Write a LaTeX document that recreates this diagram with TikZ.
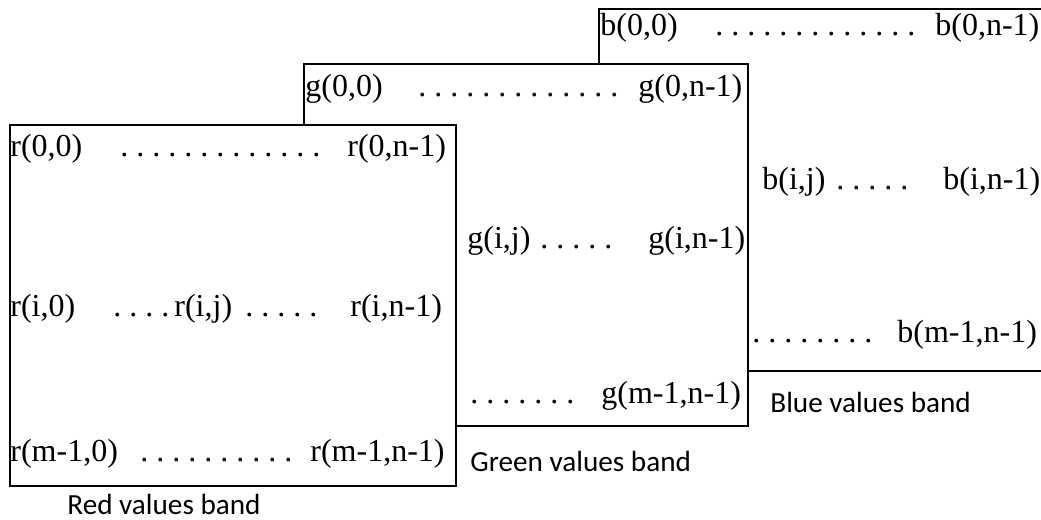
\documentclass[tikz,border=0pt]{standalone}
\usepackage{fontspec}
\setmainfont{Liberation Serif}
\newfontfamily\labelfont{Carlito}
\usetikzlibrary{positioning}
\frenchspacing

\begin{document}
\begin{tikzpicture}[x=0.5pt, y=-0.5pt]
  \tikzstyle{band}=[draw=black, line width=1pt, fill=white]
  \tikzstyle{cell}=[anchor=base west, inner sep=0pt, font=\fontsize{16}{19}\selectfont]
  \tikzstyle{caption}=[anchor=base west, inner sep=0pt, font=\labelfont\fontsize{14.6}{17}\selectfont]
  \useasboundingbox (0,0) rectangle (1041,520);

  % blue band (back)
  \draw[band] (599,9) rectangle (1048,371);
  \node[cell] (b00) at (600,35) {b(0,0)};
  \node[cell] (bdots0) at (715,35) {. . . . . . . . . . . . .};
  \node[cell] (b0n) at (935,35) {b(0,n-1)};
  \node[cell] (bij) at (762,189) {b(i,j)};
  \node[cell] (bdotsi) at (836,189) {. . . . .};
  \node[cell] (bin) at (943,189) {b(i,n-1)};
  \node[cell] (bdotsm) at (752,342) {. . . . . . . .};
  \node[cell] (bmn) at (897,342) {b(m-1,n-1)};
  \node[caption] (bluelabel) at (770,412) {Blue values band};

  % green band (middle)
  \draw[band] (304,64) rectangle (748,426);
  \node[cell] (g00) at (305,96) {g(0,0)};
  \node[cell] (gdots0) at (418,96) {. . . . . . . . . . . . .};
  \node[cell] (g0n) at (638,96) {g(0,n-1)};
  \node[cell] (gij) at (467,248) {g(i,j)};
  \node[cell] (gdotsi) at (540,248) {. . . . .};
  \node[cell] (gin) at (648,248) {g(i,n-1)};
  \node[cell] (gdotsm) at (470,403) {. . . . . . .};
  \node[cell] (gmn) at (601,403) {g(m-1,n-1)};
  \node[caption] (greenlabel) at (470,471) {Green values band};

  % red band (front)
  \draw[band] (10,125) rectangle (456,486);
  \node[cell] (r00) at (10,156) {r(0,0)};
  \node[cell] (rdots0) at (120,156) {. . . . . . . . . . . . .};
  \node[cell] (r0n) at (347,156) {r(0,n-1)};
  \node[cell] (ri0) at (10,316) {r(i,0)};
  \node[cell] (rdotsa) at (113,316) {. . . .};
  \node[cell] (rij) at (174,316) {r(i,j)};
  \node[cell] (rdotsb) at (245,316) {. . . . .};
  \node[cell] (rin) at (350,316) {r(i,n-1)};
  \node[cell] (rm0) at (10,461) {r(m-1,0)};
  \node[cell] (rdotsm) at (140,461) {. . . . . . . . . .};
  \node[cell] (rmn) at (310,461) {r(m-1,n-1)};
  \node[caption] (redlabel) at (67,514) {Red values band};
\end{tikzpicture}
\end{document}
